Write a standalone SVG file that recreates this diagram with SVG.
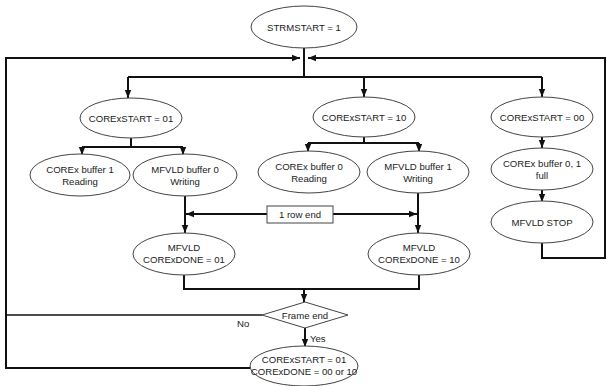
<svg xmlns="http://www.w3.org/2000/svg" width="607" height="386" viewBox="0 0 607 386">
<defs>
<marker id="ah" markerUnits="userSpaceOnUse" markerWidth="8" markerHeight="8" viewBox="0 0 8 8" refX="8" refY="4" orient="auto">
<path d="M0,0.8 L8,4 L0,7.2 z" fill="#111"/>
</marker>
<style>
.n ellipse, .n rect, .n polygon { fill:#fff; stroke:#444; stroke-width:1; }
.n text { font-family:"Liberation Sans", Arial, sans-serif; font-size:9.6px; fill:#222; text-anchor:middle; }
.c path, .c line { fill:none; stroke:#111; stroke-width:2; }
.c .thin { stroke-width:1.6; }
.a { marker-end:url(#ah); }
.lbl { font-family:"Liberation Sans", Arial, sans-serif; font-size:9.6px; fill:#222; }
</style>
</defs>
<rect width="607" height="386" fill="#fff"/>

<g class="c" id="connectors">
<path d="M304,48 V77"/>
<path d="M128,77 H542"/>
<path class="a" d="M128,77 V98"/>
<path class="a" d="M364,77 V97"/>
<path class="a" d="M542,77 V97"/>
<path class="a" d="M250,368 H6 V58 H300"/>
<path class="thin" d="M262,315 H6"/>
<path class="a" d="M542,243 V258 H605 V58 H308"/>
<path d="M131,138 V147"/>
<path d="M82,147 H183"/>
<path class="a" d="M82,147 V155"/>
<path class="a" d="M183,147 V155"/>
<path d="M364,137 V143"/>
<path d="M308,143 H419"/>
<path class="a" d="M308,143 V152"/>
<path class="a" d="M419,143 V152"/>
<path class="a" d="M542,137 V148"/>
<path class="a" d="M542,190 V202"/>
<path class="a" d="M185,196 V233"/>
<path class="a" d="M418,193 V233"/>
<path class="a" d="M267,214 H186"/>
<path class="a" d="M333,214 H417"/>
<path d="M184,275 V289 H419 V275"/>
<path class="a" d="M304,289 V302"/>
<path class="a" d="M305,328 V347"/>
</g>

<g class="n" id="strmstart">
<ellipse cx="304" cy="27" rx="53" ry="21"/>
<text x="304" y="30.5">STRMSTART = 1</text>
</g>
<g class="n" id="start01">
<ellipse cx="131" cy="118" rx="51" ry="20"/>
<text x="131" y="121.5">CORExSTART = 01</text>
</g>
<g class="n" id="start10">
<ellipse cx="364" cy="117" rx="51" ry="20"/>
<text x="364" y="120.5">CORExSTART = 10</text>
</g>
<g class="n" id="start00">
<ellipse cx="542" cy="117" rx="51" ry="20"/>
<text x="542" y="120.5">CORExSTART = 00</text>
</g>
<g class="n" id="buf1read">
<ellipse cx="80" cy="175" rx="50" ry="21"/>
<text x="80" y="173">COREx buffer 1</text>
<text x="80" y="185">Reading</text>
</g>
<g class="n" id="mf0write">
<ellipse cx="185" cy="175" rx="52" ry="21"/>
<text x="185" y="173">MFVLD buffer 0</text>
<text x="185" y="185">Writing</text>
</g>
<g class="n" id="buf0read">
<ellipse cx="309" cy="172" rx="51" ry="21"/>
<text x="309" y="170">COREx buffer 0</text>
<text x="309" y="182">Reading</text>
</g>
<g class="n" id="mf1write">
<ellipse cx="418" cy="172" rx="51" ry="21"/>
<text x="418" y="170">MFVLD buffer 1</text>
<text x="418" y="182">Writing</text>
</g>
<g class="n" id="buf01full">
<ellipse cx="542" cy="169" rx="51" ry="21"/>
<text x="542" y="167">COREx buffer 0, 1</text>
<text x="542" y="179">full</text>
</g>
<g class="n" id="mfstop">
<ellipse cx="542" cy="222" rx="51" ry="21"/>
<text x="542" y="225.5">MFVLD STOP</text>
</g>
<g class="n" id="rowend">
<rect x="267" y="206" width="66" height="17"/>
<text x="300" y="218">1 row end</text>
</g>
<g class="n" id="done01">
<ellipse cx="184" cy="254" rx="51" ry="21"/>
<text x="184" y="251">MFVLD</text>
<text x="184" y="263">CORExDONE = 01</text>
</g>
<g class="n" id="done10">
<ellipse cx="419" cy="254" rx="51" ry="21"/>
<text x="419" y="251">MFVLD</text>
<text x="419" y="263">CORExDONE = 10</text>
</g>
<g class="n" id="frameend">
<polygon points="262,315 305,302 348,315 305,328"/>
<text x="305" y="318.5">Frame end</text>
</g>
<g class="n" id="final">
<ellipse cx="304" cy="366" rx="54" ry="20"/>
<text x="304" y="363">CORExSTART = 01</text>
<text x="304" y="375">CORExDONE = 00 or 10</text>
</g>
<text class="lbl" x="237" y="327">No</text>
<text class="lbl" x="310" y="342">Yes</text>
</svg>
